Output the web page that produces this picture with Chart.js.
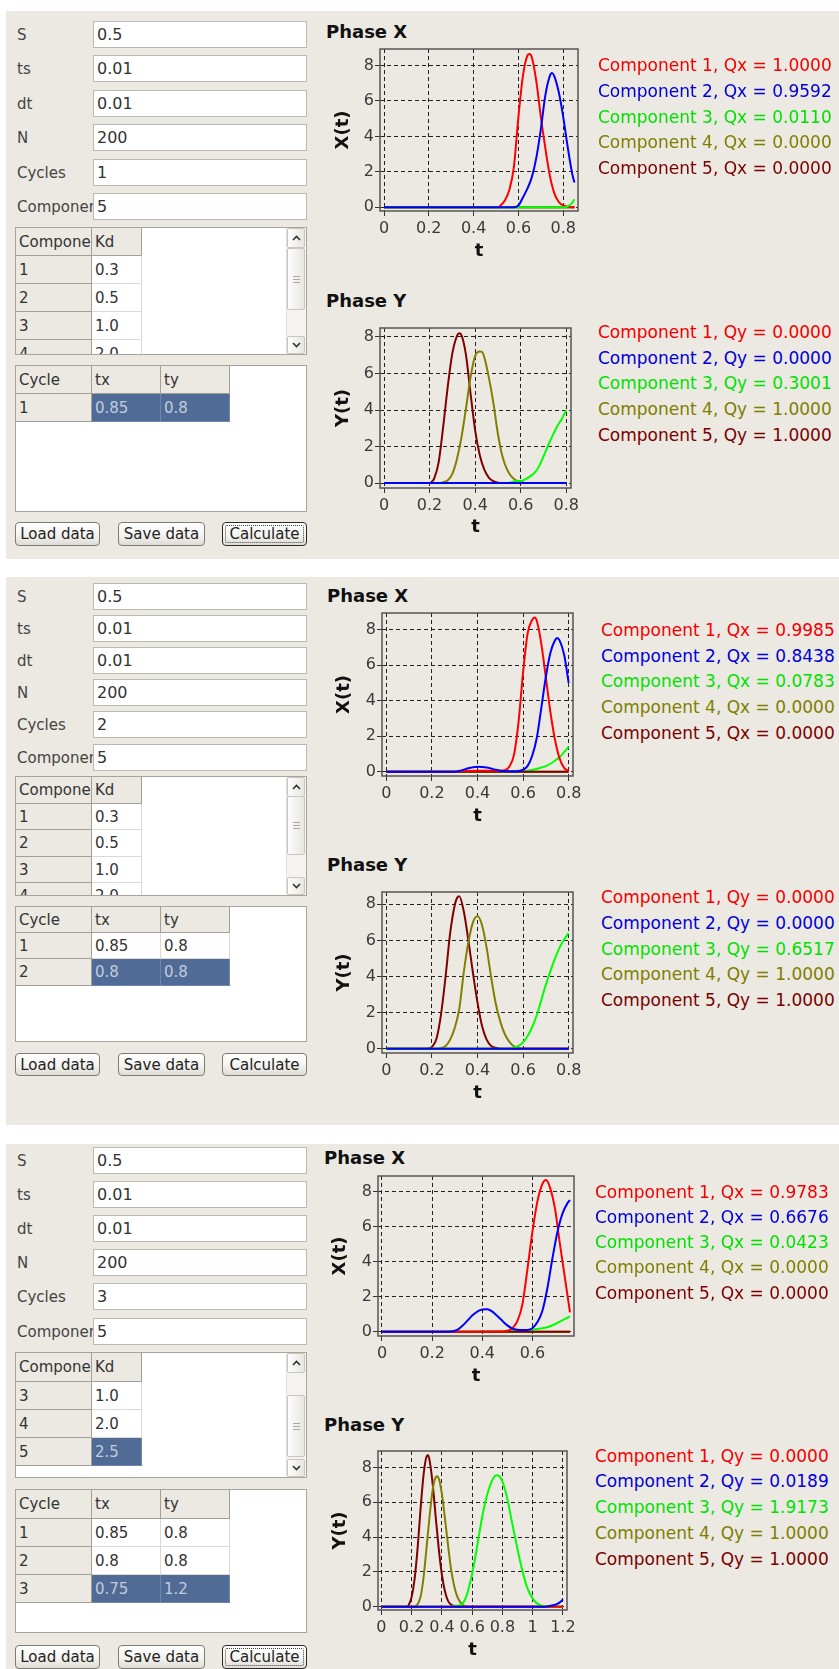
<!DOCTYPE html>
<html>
<head>
<meta charset="utf-8">
<script src="https://cdn.jsdelivr.net/npm/chart.js@4.4.1/dist/chart.umd.min.js"></script>
<style>
html, body { margin: 0; padding: 0; background: #fff; }
body { position: relative; width: 839px; height: 1669px; overflow: hidden; font-family: 'DejaVu Sans', sans-serif; }
.panel { position: absolute; left: 6px; right: 0; background: #ECE9E2; }
.abs { position: absolute; box-sizing: border-box; }
.lbl { font-size: 15px; color: #444; white-space: nowrap; overflow: hidden; display: flex; align-items: center; }
.tf { background: #fff; border: 1px solid #BCB9B1; font-size: 16px; color: #333; padding-left: 3px; display: flex; align-items: center; }
.box { background: #fff; border: 1px solid #A7A49C; overflow: hidden; }
.cell { font-size: 15px; color: #333; padding-left: 3px; white-space: nowrap; overflow: hidden; display: flex; align-items: center; }
.hc { background: #ECE9E2; border-right: 1px solid #A29F97; border-bottom: 1px solid #A29F97; }
.dc { background: #fff; border-right: 1px solid #DCD9D2; border-bottom: 1px solid #DCD9D2; }
.sel { background: #506B95; color: #C3CCDD; border-right-color: #6E86AA; border-bottom-color: #6E86AA; }
.btn { border: 1px solid #7D7B74; border-radius: 4px; background: linear-gradient(#FFFFFF, #F4F3EF 55%, #DEDCD5); font-size: 15px; color: #222; display: flex; align-items: center; justify-content: center; }
.btn.focus { border-color: #2A2A2A; }
.btn.focus::after { content: ''; position: absolute; left: 2px; top: 2px; right: 2px; bottom: 2px; border: 1px dotted #444; border-radius: 2px; }
.sb { background: #F4F3EF; border-left: 1px solid #E2E0D9; }
.sbb { background: linear-gradient(90deg, #FDFDFC, #E8E6DF); border: 1px solid #C9C6BE; border-radius: 2px; display: flex; align-items: center; justify-content: center; }
.grip { width: 7px; height: 5px; border-top: 1px solid #AAA8A0; border-bottom: 1px solid #AAA8A0; position: relative; }
.grip::after { content: ''; position: absolute; left: 0; right: 0; top: 2px; border-top: 1px solid #AAA8A0; }
.head { font-size: 18px; font-weight: bold; color: #111; line-height: 18px; white-space: nowrap; }
.leg { font-size: 17px; line-height: 20px; white-space: nowrap; }
canvas { position: absolute; }
</style>
</head>
<body>
<script>
// form contents
const paramNames = ['S', 'ts', 'dt', 'N', 'Cycles', 'Components'];
const paramVals = [
    ['0.5', '0.01', '0.01', '200', '1', '5'],
    ['0.5', '0.01', '0.01', '200', '2', '5'],
    ['0.5', '0.01', '0.01', '200', '3', '5']
];
const compIds = ['1', '2', '3', '4', '5'];
const kdVals = ['0.3', '0.5', '1.0', '2.0', '2.5'];
const cycIds = ['1', '2', '3'];
const txVals = ['0.85', '0.8', '0.75'];
const tyVals = ['0.8', '0.8', '1.2'];
const buttons = ['Load data', 'Save data', 'Calculate'];

// tick labels
const yTicks = [0, 2, 4, 6, 8];
const xTicks8 = [0, 0.2, 0.4, 0.6, 0.8];
const xTicks6 = [0, 0.2, 0.4, 0.6];
const xTicks12 = [0, 0.2, 0.4, 0.6, 0.8, 1, 1.2];

// legend values
const qx1 = ['1.0000', '0.9592', '0.0110', '0.0000', '0.0000'];
const qy1 = ['0.0000', '0.0000', '0.3001', '1.0000', '1.0000'];
const qx2 = ['0.9985', '0.8438', '0.0783', '0.0000', '0.0000'];
const qy2 = ['0.0000', '0.0000', '0.6517', '1.0000', '1.0000'];
const qx3 = ['0.9783', '0.6676', '0.0423', '0.0000', '0.0000'];
const qy3 = ['0.0000', '0.0189', '1.9173', '1.0000', '1.0000'];

// series, [t, value]
// cycle 1, phase X
const p1x_c1 = [[0,0],[0.51,0],[0.52,0.1],[0.54,0.4],[0.56,1.0],[0.58,2.3],[0.60,5.1],[0.62,7.4],[0.64,8.55],[0.65,8.65],[0.66,8.45],[0.68,7.1],[0.70,5.1],[0.72,3.35],[0.74,1.8],[0.76,0.8],[0.78,0.3],[0.80,0.1],[0.82,0.03],[0.85,0]];
const p1x_c2 = [[0,0],[0.58,0],[0.60,0.1],[0.62,0.55],[0.64,1.05],[0.66,1.7],[0.68,2.8],[0.70,4.4],[0.72,6.3],[0.74,7.4],[0.75,7.57],[0.76,7.4],[0.78,6.5],[0.80,5.1],[0.82,3.4],[0.84,1.9],[0.85,1.4]];
const p1x_c3 = [[0,0],[0.80,0],[0.82,0.05],[0.84,0.25],[0.85,0.45]];
const p1x_c4 = [[0,0],[0.85,0]];
const p1x_c5 = [[0,0],[0.85,0]];
// cycle 1, phase Y
const p1y_c1 = [[0,0],[0.8,0]];
const p1y_c2 = [[0,0],[0.8,0]];
const p1y_c3 = [[0,0],[0.54,0],[0.56,0.05],[0.58,0.12],[0.60,0.12],[0.62,0.2],[0.64,0.35],[0.66,0.55],[0.68,0.9],[0.70,1.45],[0.72,2.05],[0.74,2.6],[0.76,3.1],[0.78,3.5],[0.80,4.0]];
const p1y_c4 = [[0,0],[0.25,0],[0.26,0.05],[0.28,0.15],[0.30,0.5],[0.32,1.3],[0.34,2.5],[0.36,4.1],[0.38,5.8],[0.40,6.95],[0.42,7.2],[0.43,7.18],[0.44,6.9],[0.46,5.8],[0.48,4.4],[0.50,2.7],[0.52,1.45],[0.54,0.75],[0.56,0.35],[0.58,0.15],[0.60,0.08],[0.62,0],[0.8,0]];
const p1y_c5 = [[0,0],[0.20,0],[0.21,0.08],[0.22,0.25],[0.24,1.15],[0.26,3.1],[0.28,5.3],[0.30,7.1],[0.32,8.05],[0.33,8.2],[0.34,8.1],[0.36,7.0],[0.38,4.9],[0.40,2.9],[0.42,1.55],[0.44,0.75],[0.46,0.3],[0.48,0.1],[0.50,0.02],[0.52,0],[0.8,0]];
// cycle 2, phase X
const p2x_c1 = [[0,0],[0.30,0],[0.32,0.03],[0.40,0.05],[0.50,0.05],[0.52,0.08],[0.54,0.3],[0.56,0.95],[0.58,2.8],[0.60,5.6],[0.62,7.8],[0.64,8.55],[0.65,8.68],[0.66,8.5],[0.68,7.2],[0.70,5.3],[0.72,3.35],[0.74,1.8],[0.76,0.75],[0.78,0.22],[0.80,0.05]];
const p2x_c2 = [[0,0],[0.30,0],[0.32,0.04],[0.34,0.12],[0.36,0.2],[0.38,0.25],[0.40,0.28],[0.42,0.27],[0.44,0.24],[0.46,0.18],[0.48,0.11],[0.50,0.06],[0.52,0.04],[0.56,0.03],[0.58,0.04],[0.60,0.12],[0.62,0.33],[0.64,0.9],[0.66,1.9],[0.68,3.6],[0.70,5.35],[0.72,6.7],[0.74,7.4],[0.75,7.53],[0.76,7.4],[0.78,6.6],[0.80,5.0]];
const p2x_c3 = [[0,0],[0.56,0],[0.60,0.02],[0.64,0.1],[0.68,0.24],[0.70,0.32],[0.72,0.45],[0.74,0.62],[0.76,0.82],[0.78,1.1],[0.80,1.41]];
const p2x_c4 = [[0,0],[0.8,0]];
const p2x_c5 = [[0,0],[0.8,0]];
// cycle 2, phase Y
const p2y_c1 = [[0,0],[0.8,0]];
const p2y_c2 = [[0,0],[0.8,0]];
const p2y_c3 = [[0,0],[0.54,0],[0.56,0.05],[0.58,0.15],[0.60,0.35],[0.62,0.7],[0.64,1.2],[0.66,1.85],[0.68,2.7],[0.70,3.55],[0.72,4.3],[0.74,5.0],[0.76,5.6],[0.78,6.05],[0.80,6.4]];
const p2y_c4 = [[0,0],[0.23,0],[0.24,0.03],[0.26,0.15],[0.28,0.5],[0.30,1.15],[0.32,2.2],[0.34,4.25],[0.36,5.9],[0.38,7.0],[0.40,7.33],[0.42,6.84],[0.44,5.6],[0.46,3.95],[0.48,2.5],[0.50,1.5],[0.52,0.8],[0.54,0.38],[0.56,0.13],[0.58,0.04],[0.60,0],[0.8,0]];
const p2y_c5 = [[0,0],[0.18,0],[0.19,0.03],[0.20,0.1],[0.22,0.55],[0.24,1.9],[0.26,4.0],[0.28,6.4],[0.30,7.95],[0.31,8.35],[0.32,8.45],[0.34,7.6],[0.36,6.0],[0.38,4.2],[0.40,2.55],[0.42,1.25],[0.44,0.5],[0.46,0.15],[0.48,0.05],[0.50,0],[0.8,0]];
// cycle 3, phase X
const p3x_c1 = [[0,0],[0.30,0],[0.48,0.01],[0.50,0.05],[0.52,0.2],[0.54,0.6],[0.56,1.55],[0.58,3.55],[0.60,5.7],[0.62,7.45],[0.64,8.45],[0.655,8.67],[0.67,8.25],[0.69,7.05],[0.71,5.0],[0.73,3.05],[0.75,1.1]];
const p3x_c2 = [[0,0],[0.27,0],[0.28,0.02],[0.30,0.1],[0.32,0.32],[0.34,0.62],[0.36,0.92],[0.38,1.15],[0.40,1.27],[0.42,1.28],[0.44,1.15],[0.46,0.9],[0.48,0.62],[0.50,0.36],[0.52,0.18],[0.54,0.11],[0.56,0.09],[0.58,0.1],[0.60,0.2],[0.62,0.55],[0.64,1.2],[0.66,2.5],[0.68,4.2],[0.70,5.7],[0.72,6.75],[0.74,7.35],[0.75,7.52]];
const p3x_c3 = [[0,0],[0.50,0],[0.54,0.04],[0.58,0.1],[0.62,0.15],[0.66,0.25],[0.70,0.5],[0.72,0.65],[0.74,0.8],[0.75,0.88]];
const p3x_c4 = [[0,0],[0.75,0]];
const p3x_c5 = [[0,0],[0.75,0]];
// cycle 3, phase Y
const p3y_c1 = [[0,0],[1.2,0]];
const p3y_c2 = [[0,0],[1.08,0],[1.12,0.05],[1.16,0.15],[1.18,0.25],[1.20,0.42]];
const p3y_c3 = [[0,0],[0.46,0],[0.48,0.05],[0.50,0.06],[0.52,0.08],[0.54,0.22],[0.56,0.55],[0.58,1.15],[0.60,1.9],[0.62,2.8],[0.64,3.85],[0.66,4.85],[0.68,5.75],[0.70,6.45],[0.72,7.0],[0.74,7.38],[0.76,7.55],[0.78,7.5],[0.80,7.2],[0.82,6.65],[0.84,5.9],[0.86,5.0],[0.88,4.15],[0.90,3.3],[0.92,2.5],[0.94,1.8],[0.96,1.2],[0.98,0.77],[1.00,0.48],[1.02,0.26],[1.04,0.13],[1.06,0.06],[1.08,0.02],[1.10,0],[1.2,0]];
const p3y_c4 = [[0,0],[0.22,0],[0.24,0.15],[0.26,0.6],[0.28,1.75],[0.30,3.5],[0.32,5.3],[0.34,6.75],[0.36,7.45],[0.37,7.5],[0.38,7.35],[0.40,6.5],[0.42,5.1],[0.44,3.6],[0.46,2.2],[0.48,1.25],[0.50,0.62],[0.52,0.28],[0.54,0.1],[0.56,0.02],[0.58,0],[1.2,0]];
const p3y_c5 = [[0,0],[0.17,0],[0.18,0.08],[0.20,0.55],[0.22,1.6],[0.24,3.4],[0.26,5.7],[0.28,7.65],[0.30,8.65],[0.31,8.7],[0.32,8.35],[0.34,7.0],[0.36,5.1],[0.38,3.3],[0.40,1.85],[0.42,0.9],[0.44,0.35],[0.46,0.12],[0.48,0.04],[0.50,0],[1.2,0]];

const lineColors = ['#FF0000', '#0000FF', '#00FF00', '#808000', '#800000'];
const textColors = ['#F20000', '#0000D8', '#00E000', '#7E7E00', '#7A0000'];

function el(cls, x, y, w, h, txt, parent) {
    const d = document.createElement('div');
    d.className = 'abs ' + cls;
    const l = Math.round(x), t = Math.round(y);
    d.style.left = l + 'px';
    d.style.top = t + 'px';
    if (w != null) d.style.width = (Math.round(x + w) - l) + 'px';
    if (h != null) d.style.height = (Math.round(y + h) - t) + 'px';
    if (txt != null) d.textContent = txt;
    (parent || document.body).appendChild(d);
    return d;
}

const chev = up => '<svg width="9" height="6"><polyline points="' + (up ? '1,5 4.5,1.5 8,5' : '1,1 4.5,4.5 8,1') + '" fill="none" stroke="#333" stroke-width="1.6"/></svg>';

function table(b, cols, heads, rows, selRow) {
    const box = el('box', 15, b.top, 292, b.bottom - b.top);
    const ox = 16, oy = b.top + 1;
    const put = (cls, x, y, w, h, t) => {
        const Y = Math.round(y), Y2 = Math.round(y + h);
        return el(cls, x - ox, Y - oy, w, Y2 - Y, t, box);
    };
    cols.forEach((c, j) => put('cell hc', c[0], b.top + 1, c[1], b.head, heads[j]));
    rows.forEach((r, i) => {
        const y = b.top + 1 + b.head + i * b.row;
        if (y > b.bottom) return;
        r.forEach((v, j) => {
            let cls = j === 0 ? 'cell hc' : 'cell dc';
            if (j > 0 && i === selRow) cls += ' sel';
            put(cls, cols[j][0], y, cols[j][1], b.row, v);
        });
    });
    return {box, put, ox, oy};
}

function buildForm(f, vals) {
    for (let i = 0; i < 6; i++) {
        const y = f.rowTop + i * f.pitch;
        el('lbl', 17, y, 76, f.rowH, paramNames[i]);
        el('tf', 93, y, 214, f.rowH, vals[i]);
    }
    const c = f.comp;
    const compRows = compIds.slice(c.first).map((id, i) => [id, kdVals[c.first + i]]);
    const ct = table(c, [[16, 76], [92, 50]], ['Component', 'Kd'], compRows, c.sel - c.first);
    // scrollbar
    const inner = c.bottom - c.top - 2;
    el('sb', 286 - ct.ox, 0, 20, inner, null, ct.box);
    el('sbb', 287 - ct.ox, 0, 18, 20, null, ct.box).innerHTML = chev(true);
    el('sbb', 287 - ct.ox, c.thumb[0] - ct.oy, 18, c.thumb[1] - c.thumb[0], null, ct.box).innerHTML = '<div class="grip"></div>';
    el('sbb', 287 - ct.ox, inner - 18, 18, 18, null, ct.box).innerHTML = chev(false);

    const y = f.cyc;
    const cycRows = cycIds.slice(0, y.n).map((id, i) => [id, txVals[i], tyVals[i]]);
    table(y, [[16, 76], [92, 69], [161, 69]], ['Cycle', 'tx', 'ty'], cycRows, y.n - 1);

    const bx = [[15, 85], [118, 87], [222, 85]];
    buttons.forEach((t, i) => {
        const b = el('btn' + (i === 2 && f.btn.focus ? ' focus' : ''), bx[i][0], f.btn.top, bx[i][1], f.btn.h, t);
    });
}

// panel backgrounds
[[11, 559], [577, 1125], [1144, 1669]].forEach(p => {
    const d = document.createElement('div');
    d.className = 'panel';
    d.style.top = p[0] + 'px';
    d.style.height = (p[1] - p[0]) + 'px';
    document.body.appendChild(d);
});

const forms = [
    {rowTop: 21, pitch: 34.4, rowH: 27,
     comp: {top: 227, bottom: 355, head: 28, row: 28, first: 0, sel: -1, thumb: [248, 310]},
     cyc: {top: 365, bottom: 512, head: 28, row: 28, n: 1},
     btn: {top: 522, h: 24, focus: true}},
    {rowTop: 583, pitch: 32.1, rowH: 27,
     comp: {top: 776, bottom: 896, head: 27, row: 26.3, first: 0, sel: -1, thumb: [796, 855]},
     cyc: {top: 906, bottom: 1042, head: 26, row: 26.3, n: 2},
     btn: {top: 1053, h: 23, focus: false}},
    {rowTop: 1147, pitch: 34.1, rowH: 27,
     comp: {top: 1352, bottom: 1478, head: 29, row: 28, first: 2, sel: 4, thumb: [1395, 1457]},
     cyc: {top: 1489, bottom: 1633, head: 29, row: 28, n: 3},
     btn: {top: 1645, h: 24, focus: true}}
];
forms.forEach((f, i) => buildForm(f, paramVals[i]));

const frame = {
    id: 'frame',
    afterDatasetsDraw(chart) {
        const {ctx, chartArea: a} = chart;
        ctx.save();
        ctx.strokeStyle = '#555';
        ctx.lineWidth = 1.5;
        ctx.strokeRect(a.left, a.top, a.right - a.left, a.bottom - a.top);
        ctx.restore();
    }
};

const tickFont = {family: 'DejaVu Sans', size: 16};
const titleFont = {family: 'DejaVu Sans', size: 18, weight: 'bold'};

function makeChart(c) {
    const yw = 50, xh = 55, pt = 6, pr = 26;
    const [L, T, R, B] = c.area;
    const w = R - L + yw + pr, h = B - T + pt + xh;
    const cv = document.createElement('canvas');
    cv.width = w; cv.height = h;
    cv.style.left = (L - yw) + 'px';
    cv.style.top = (T - pt) + 'px';
    cv.style.width = w + 'px';
    cv.style.height = h + 'px';
    document.body.appendChild(cv);

    const half = 18 * 1.2 / 2;
    const grid = {color: '#222', lineWidth: 1, tickLength: 5, tickColor: '#333', tickWidth: 1, tickBorderDash: []};
    new Chart(cv, {
        type: 'line',
        data: {
            datasets: c.series.map((s, i) => ({
                label: 'Component ' + (i + 1),
                data: s.map(p => ({x: p[0], y: p[1]})),
                borderColor: lineColors[i],
                borderWidth: 2,
                pointRadius: 0,
                fill: false,
                cubicInterpolationMode: 'monotone',
                order: c.order[i]
            }))
        },
        options: {
            responsive: false,
            animation: false,
            devicePixelRatio: 1,
            layout: {padding: {top: pt, right: pr, left: 0, bottom: 0}},
            plugins: {legend: {display: false}, tooltip: {enabled: false}},
            scales: {
                x: {
                    type: 'linear', min: c.x[0], max: c.x[1],
                    afterBuildTicks: s => { s.ticks = c.xt.map(v => ({value: v})); },
                    afterFit: s => { s.height = xh; s.paddingLeft = 0; s.paddingRight = 0; },
                    ticks: {font: tickFont, color: '#3a3a3a', padding: 3, autoSkip: false, maxRotation: 0, minRotation: 0, callback: v => String(v)},
                    grid: grid,
                    border: {display: false, dash: [4, 3]},
                    title: {display: true, text: 't', font: titleFont, color: '#111', padding: {top: 0, bottom: B + xh - half - c.tCy}}
                },
                y: {
                    min: c.y[0], max: c.y[1],
                    afterBuildTicks: s => { s.ticks = yTicks.map(v => ({value: v})); },
                    afterFit: s => { s.width = yw; s.paddingTop = 0; s.paddingBottom = 0; },
                    ticks: {font: tickFont, color: '#3a3a3a', padding: 1, callback: v => String(v)},
                    grid: grid,
                    border: {display: false, dash: [4, 3]},
                    title: {display: true, text: c.yLabel, font: titleFont, color: '#111', padding: {top: c.yCx - (L - yw) - half, bottom: 0}}
                }
            }
        },
        plugins: [frame]
    });

    el('head', c.hx, c.hy, null, null, c.head);
    c.q.forEach((q, i) => {
        const d = el('leg', c.lx, c.ly[i] - 10, null, null, 'Component ' + (i + 1) + ', ' + c.qn + ' = ' + q);
        d.style.color = textColors[i];
    });
}

const charts = [
    {area: [380, 49, 578, 211], x: [-0.018, 0.866], y: [-0.21, 8.93], xt: xTicks8, yLabel: 'X(t)', yCx: 343.3, tCy: 251.3,
     series: [p1x_c1, p1x_c2, p1x_c3, p1x_c4, p1x_c5], order: [2, 0, 1, 3, 4],
     head: 'Phase X', hx: 326, hy: 22.5, q: qx1, qn: 'Qx', lx: 598, ly: [65, 90.7, 116.7, 142.3, 168.3]},
    {area: [380, 328, 571, 488], x: [-0.0176, 0.821], y: [-0.27, 8.49], xt: xTicks8, yLabel: 'Y(t)', yCx: 343.3, tCy: 527.5,
     series: [p1y_c1, p1y_c2, p1y_c3, p1y_c4, p1y_c5], order: [4, 0, 1, 2, 3],
     head: 'Phase Y', hx: 326, hy: 291.7, q: qy1, qn: 'Qy', lx: 598, ly: [332.3, 357.7, 383.3, 409, 434.7]},
    {area: [382, 613, 573, 776], x: [-0.019, 0.819], y: [-0.24, 8.94], xt: xTicks8, yLabel: 'X(t)', yCx: 344.2, tCy: 816,
     series: [p2x_c1, p2x_c2, p2x_c3, p2x_c4, p2x_c5], order: [1, 0, 3, 4, 2],
     head: 'Phase X', hx: 327.3, hy: 586.9, q: qx2, qn: 'Qx', lx: 600.7, ly: [630, 655.7, 681.3, 707, 733]},
    {area: [382, 892, 573, 1053], x: [-0.019, 0.819], y: [-0.24, 8.68], xt: xTicks8, yLabel: 'Y(t)', yCx: 344.2, tCy: 1093,
     series: [p2y_c1, p2y_c2, p2y_c3, p2y_c4, p2y_c5], order: [4, 0, 1, 2, 3],
     head: 'Phase Y', hx: 327.3, hy: 855.9, q: qy2, qn: 'Qy', lx: 600.7, ly: [897.3, 922.7, 948.7, 974.3, 1000]},
    {area: [378, 1176, 574, 1336], x: [-0.0159, 0.766], y: [-0.246, 8.9], xt: xTicks6, yLabel: 'X(t)', yCx: 340.5, tCy: 1376,
     series: [p3x_c1, p3x_c2, p3x_c3, p3x_c4, p3x_c5], order: [1, 0, 3, 4, 2],
     head: 'Phase X', hx: 324, hy: 1148.5, q: qx3, qn: 'Qx', lx: 595, ly: [1191.7, 1216.7, 1242, 1267.3, 1293.3]},
    {area: [378, 1451, 567, 1610], x: [-0.022, 1.227], y: [-0.19, 8.95], xt: xTicks12, yLabel: 'Y(t)', yCx: 340.5, tCy: 1650,
     series: [p3y_c1, p3y_c2, p3y_c3, p3y_c4, p3y_c5], order: [1, 0, 2, 3, 4],
     head: 'Phase Y', hx: 324, hy: 1415.9, q: qy3, qn: 'Qy', lx: 595, ly: [1456, 1481, 1506.7, 1533.3, 1559.3]}
];
charts.forEach(makeChart);
</script>
</body>
</html>
